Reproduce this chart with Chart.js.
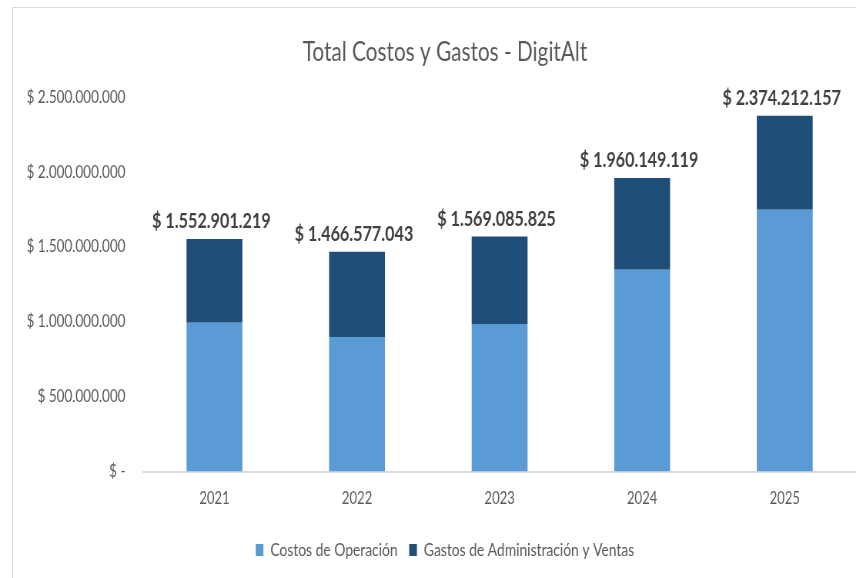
<!DOCTYPE html>
<html>
<head>
<meta charset="utf-8">
<script src="https://cdn.jsdelivr.net/npm/chart.js@4.4.1/dist/chart.umd.min.js"></script>
<style>
  body { margin: 0; background: #fff; overflow: hidden; }
  #frame { position: absolute; left: 12px; top: 7px; width: 900px; height: 700px; border: 1px solid #d9d9d9; }
  /* the reference is squeezed sideways, so the chart is drawn wide and narrowed */
  #canvas { position: absolute; left: 0; top: 0; transform: scaleX(0.7698); transform-origin: 0 0; }
</style>
</head>
<body>
<div id="frame"></div>
<canvas id="canvas" width="1112" height="578"></canvas>
<script>
let years = ['2021', '2022', '2023', '2024', '2025'];
let costos = [993000000, 898000000, 985000000, 1347000000, 1747000000];
let gastos = [559901219, 568577043, 584085825, 613149119, 627212157];
let totales = [1552901219, 1466577043, 1569085825, 1960149119, 2374212157];

let fontFam = "Lato, 'Open Sans', sans-serif";

let fmt = (v) => {
    if (v === 0) return '$ -';
    return '$ ' + String(v).replace(/\B(?=(\d{3})+(?!\d))/g, '.');
};

// totals above each stacked bar
let totalLabels = {
    id: 'totalLabels',
    afterLayout(chart) {
        // keep the long y labels from being clipped by the left padding
        chart.scales.y.left = 0;
    },
    afterDatasetsDraw(chart) {
        let ctx = chart.ctx;
        let meta = chart.getDatasetMeta(1);
        ctx.save();
        ctx.font = 'bold 21px ' + fontFam;
        ctx.fillStyle = '#404040';
        ctx.textAlign = 'center';
        ctx.textBaseline = 'bottom';
        meta.data.forEach((bar, i) => {
            ctx.fillText(fmt(totales[i]), bar.x - 4, bar.y - 7);
        });
        ctx.restore();
    }
};

let ctx = document.getElementById('canvas').getContext('2d');

let chart = new Chart(ctx, {
    type: 'bar',
    data: {
        labels: years,
        datasets: [{
            label: 'Costos de Operación',
            data: costos,
            backgroundColor: '#5b9bd5',
        }, {
            label: 'Gastos de Administración y Ventas',
            data: gastos,
            backgroundColor: '#1f4e79',
        }],
    },
    options: {
        responsive: false,
        animation: false,
        layout: { padding: { left: 44, right: 0, top: 36, bottom: 9 } },
        datasets: {
            bar: { categoryPercentage: 1, barPercentage: 0.392 }
        },
        plugins: {
            title: {
                display: true,
                text: 'Total Costos y Gastos - DigitAlt',
                color: '#595959',
                font: { family: fontFam, size: 27, weight: 'normal' },
                padding: { top: 0, bottom: 28.6 },
            },
            legend: {
                position: 'bottom',
                labels: {
                    color: '#595959',
                    font: { family: fontFam, size: 18 },
                    boxWidth: 10,
                    boxHeight: 12,
                    padding: 15,
                },
            },
            tooltip: { enabled: false },
        },
        scales: {
            x: {
                stacked: true,
                grid: { display: false, drawTicks: false },
                border: { display: true, color: '#d9d9d9', width: 2 },
                ticks: { color: '#595959', font: { family: fontFam, size: 17 }, padding: 17 },
            },
            y: {
                stacked: true,
                min: 0,
                max: 2500000000,
                grid: { display: false, drawTicks: false },
                border: { display: false },
                afterFit(scale) { scale.width = 142; },
                ticks: {
                    stepSize: 500000000,
                    color: '#595959',
                    font: { family: fontFam, size: 17.5 },
                    padding: 23,
                    callback: (v) => fmt(v),
                },
            },
        },
    },
    plugins: [totalLabels],
});
</script>
</body>
</html>
